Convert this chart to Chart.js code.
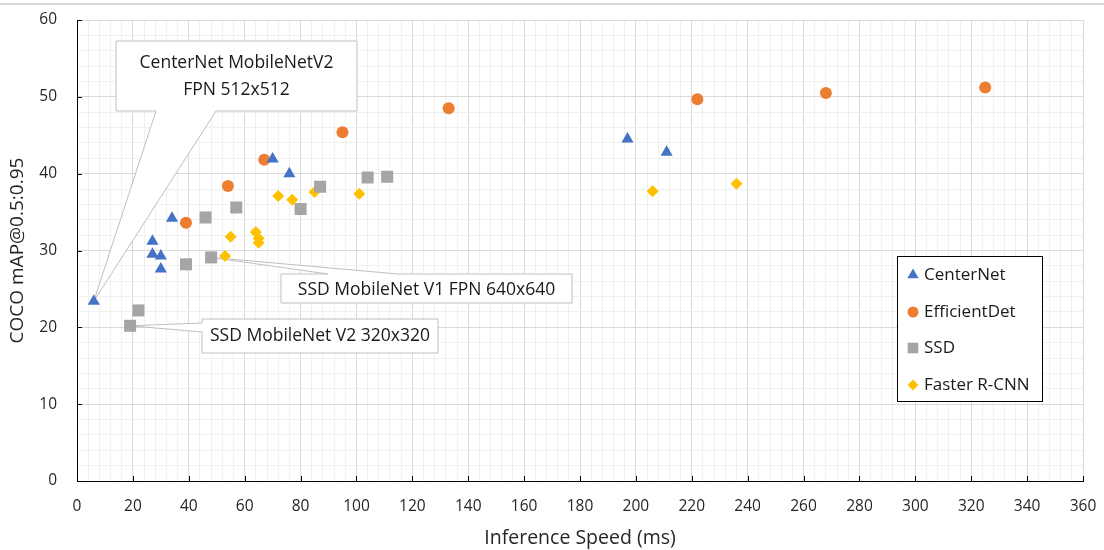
<!DOCTYPE html>
<html>
<head>
<meta charset="utf-8">
<script src="https://cdn.jsdelivr.net/npm/chart.js@4/dist/chart.umd.min.js"></script>
<style>
    body { margin: 0; background: #fff; }
    #wrap { width: 1104px; height: 550px; position: relative; }
</style>
</head>
<body>
<div id="wrap"><canvas id="speedChart" width="1104" height="550"></canvas></div>
<script>
//chart values (inference speed in ms, COCO mAP)
const centerNetSpeed = [6, 27, 27, 30, 30, 34, 70, 76, 197, 211];
const centerNetMap = [23.4, 31.2, 29.5, 29.3, 27.6, 34.2, 41.9, 40.0, 44.5, 42.8];

const efficientDetSpeed = [39, 54, 67, 95, 133, 222, 268, 325];
const efficientDetMap = [33.6, 38.4, 41.8, 45.4, 48.5, 49.7, 50.5, 51.2];

const ssdSpeed = [19, 22, 39, 46, 48, 57, 80, 87, 104, 111];
const ssdMap = [20.2, 22.2, 28.2, 34.3, 29.1, 35.6, 35.4, 38.3, 39.5, 39.6];

const fasterRcnnSpeed = [53, 55, 64, 65, 65, 72, 77, 85, 101, 206, 236];
const fasterRcnnMap = [29.3, 31.8, 32.4, 31.0, 31.6, 37.1, 36.6, 37.6, 37.4, 37.7, 38.7];

const seriesNames = ['CenterNet', 'EfficientDet', 'SSD', 'Faster R-CNN'];
const xTitle = 'Inference Speed (ms)';
const yTitle = 'COCO mAP@0.5:0.95';

//labelled points: series index, point index, text lines
const calloutLabels = [
    { series: 0, index: 0, lines: ['CenterNet MobileNetV2', 'FPN 512x512'] },
    { series: 2, index: 4, lines: ['SSD MobileNet V1 FPN 640x640'] },
    { series: 2, index: 0, lines: ['SSD MobileNet V2 320x320'] }
];

const FONT = '"Open Sans", "DejaVu Sans", sans-serif';
const colors = ['#4472C4', '#ED7D31', '#A5A5A5', '#FFC000'];
const styles = ['triangle', 'circle', 'rect', 'rectRot'];
const radii = [7, 6, 8.5, 6];
const legendRadii = [6.5, 5.5, 7.5, 5.5];

function toPoints(xs, ys) {
    return xs.map((x, i) => ({ x: x, y: ys[i] }));
}

const allSeries = [
    toPoints(centerNetSpeed, centerNetMap),
    toPoints(efficientDetSpeed, efficientDetMap),
    toPoints(ssdSpeed, ssdMap),
    toPoints(fasterRcnnSpeed, fasterRcnnMap)
];

//callout box geometry (pixels) and where the pointer meets the box
const calloutBoxes = [
    { l: 116, t: 41, r: 357, b: 111, edge: 'bottom', from: 216, to: 156, lineY: [63, 90] },
    { l: 281, t: 274, r: 572, b: 303, edge: 'top', from: 328, to: 398, lineY: [290] },
    { l: 202, t: 319, r: 438, b: 353, edge: 'left', from: 332, to: 323, lineY: [336] }
];

function drawCallout(ctx, box, tip, lines) {
    ctx.beginPath();
    ctx.moveTo(box.l, box.t);
    if (box.edge === 'top') {
        ctx.lineTo(box.from, box.t);
        ctx.lineTo(tip.x, tip.y);
        ctx.lineTo(box.to, box.t);
    }
    ctx.lineTo(box.r, box.t);
    ctx.lineTo(box.r, box.b);
    if (box.edge === 'bottom') {
        ctx.lineTo(box.from, box.b);
        ctx.lineTo(tip.x, tip.y);
        ctx.lineTo(box.to, box.b);
    }
    ctx.lineTo(box.l, box.b);
    if (box.edge === 'left') {
        ctx.lineTo(box.l, box.from);
        ctx.lineTo(tip.x, tip.y);
        ctx.lineTo(box.l, box.to);
    }
    ctx.closePath();
    ctx.fillStyle = '#ffffff';
    ctx.fill();
    ctx.strokeStyle = '#bfbfbf';
    ctx.lineWidth = 1;
    ctx.stroke();

    ctx.fillStyle = '#1a1a1a';
    ctx.font = '17.5px ' + FONT;
    ctx.textAlign = 'center';
    ctx.textBaseline = 'middle';
    const cx = (box.l + box.r) / 2;
    lines.forEach((txt, i) => ctx.fillText(txt, cx, box.lineY[i]));
}

const decorPlugin = {
    id: 'decor',
    beforeDraw(chart) {
        const ctx = chart.ctx;
        ctx.save();
        ctx.strokeStyle = '#c8c8c8';
        ctx.lineWidth = 1.5;
        ctx.beginPath();
        ctx.moveTo(0, 4);
        ctx.lineTo(chart.width, 4);
        ctx.stroke();
        ctx.restore();
    },
    beforeDatasetsDraw(chart) {
        const ctx = chart.ctx;
        const xs = chart.scales.x;
        const ys = chart.scales.y;
        const area = chart.chartArea;
        ctx.save();
        //inside tick marks
        ctx.strokeStyle = '#000';
        ctx.lineWidth = 1;
        ctx.beginPath();
        for (let v = 20; v <= 360; v += 20) {
            const px = Math.round(xs.getPixelForValue(v)) + 0.5;
            ctx.moveTo(px, area.bottom);
            ctx.lineTo(px, area.bottom - 5);
        }
        for (let v = 10; v <= 60; v += 10) {
            const py = Math.round(ys.getPixelForValue(v)) + 0.5;
            ctx.moveTo(area.left, py);
            ctx.lineTo(area.left + 5, py);
        }
        ctx.stroke();

        //callouts
        calloutLabels.forEach((c, i) => {
            const p = allSeries[c.series][c.index];
            const tip = { x: xs.getPixelForValue(p.x), y: ys.getPixelForValue(p.y) };
            drawCallout(ctx, calloutBoxes[i], tip, c.lines);
        });
        ctx.restore();
    },
    afterDatasetsDraw(chart) {
        //legend box
        const ctx = chart.ctx;
        ctx.save();
        ctx.fillStyle = '#fff';
        ctx.fillRect(897, 256, 145, 146);
        ctx.strokeStyle = '#000';
        ctx.lineWidth = 1;
        ctx.strokeRect(897.5, 256.5, 145, 145);
        const rowY = [275, 312, 348, 385];
        seriesNames.forEach((name, i) => {
            ctx.fillStyle = colors[i];
            Chart.helpers.drawPoint(ctx, {
                pointStyle: styles[i], rotation: 0, radius: legendRadii[i], borderWidth: 0
            }, 913, rowY[i]);
            ctx.fillStyle = '#1a1a1a';
            ctx.font = '17px ' + FONT;
            ctx.textAlign = 'left';
            ctx.textBaseline = 'middle';
            ctx.fillText(name, 924, rowY[i]);
        });
        ctx.restore();
    }
};

const datasets = allSeries.map((pts, i) => ({
    label: seriesNames[i],
    data: pts,
    pointStyle: styles[i],
    pointRadius: radii[i],
    pointHoverRadius: radii[i],
    pointBackgroundColor: colors[i],
    pointBorderWidth: 0,
    showLine: false
}));

new Chart(document.getElementById('speedChart'), {
    type: 'scatter',
    data: { datasets: datasets },
    plugins: [decorPlugin],
    options: {
        responsive: false,
        animation: false,
        devicePixelRatio: 1,
        layout: { padding: { top: 20, right: 21, left: 0, bottom: 0 } },
        plugins: {
            legend: { display: false },
            tooltip: { enabled: false }
        },
        scales: {
            x: {
                type: 'linear',
                min: 0,
                max: 360,
                afterFit: scale => {
                    scale.height = 69;
                    scale.paddingLeft = 0;
                    scale.paddingRight = 0;
                },
                ticks: {
                    stepSize: 4,
                    autoSkip: false,
                    maxTicksLimit: 1000,
                    maxRotation: 0,
                    padding: 16,
                    color: '#262626',
                    font: { family: FONT, size: 15.5 },
                    callback: v => (v % 20 === 0 ? v : '')
                },
                grid: {
                    drawTicks: false,
                    color: c => (c.tick && c.tick.value % 20 === 0 ? '#d9d9d9' : '#f0f0f0')
                },
                border: { color: '#000', width: 1 },
                title: {
                    display: true,
                    text: xTitle,
                    color: '#262626',
                    font: { family: FONT, size: 19.5 },
                    padding: { top: 0, bottom: 0 }
                }
            },
            y: {
                type: 'linear',
                min: 0,
                max: 60,
                afterFit: scale => {
                    scale.width = 77;
                    scale.paddingTop = 0;
                    scale.paddingBottom = 0;
                },
                ticks: {
                    stepSize: 2,
                    autoSkip: false,
                    maxTicksLimit: 1000,
                    padding: 20,
                    color: '#262626',
                    font: { family: FONT, size: 15.5 },
                    callback: v => (v % 10 === 0 ? v : '')
                },
                grid: {
                    drawTicks: false,
                    color: c => (c.tick && c.tick.value % 10 === 0 ? '#d9d9d9' : '#f0f0f0')
                },
                border: { color: '#000', width: 1 },
                title: {
                    display: true,
                    text: yTitle,
                    color: '#262626',
                    font: { family: FONT, size: 19 },
                    padding: { top: 6, bottom: 0 }
                }
            }
        }
    }
});
</script>
</body>
</html>
